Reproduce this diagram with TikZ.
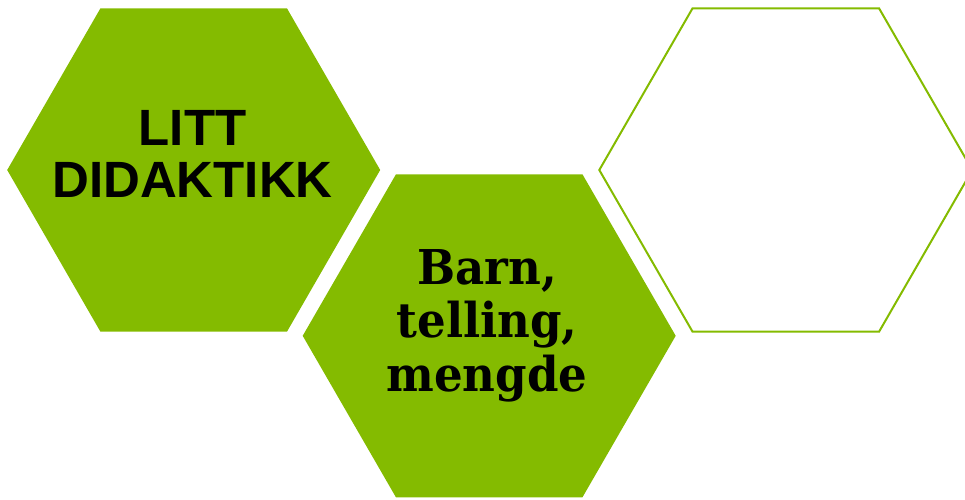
\documentclass[tikz,border=0pt]{standalone}
\usepackage{fontspec}
\usetikzlibrary{calc}
\setmainfont{Liberation Sans}
\newfontfamily\slabfont[FakeStretch=0.94]{DejaVu Serif}
\definecolor{hexgreen}{RGB}{132,187,0}
\tikzset{
  hexfill/.style={fill=hexgreen, draw=none},
  hexline/.style={draw=hexgreen, line width=2pt, fill=none, line join=miter},
  sanslabel/.style={align=center, inner sep=0pt, font=\fontsize{51}{52}\selectfont\bfseries, text=black, anchor=base},
  slablabel/.style={align=center, inner sep=0pt, font=\fontsize{48}{53.5}\selectfont\slabfont\bfseries, text=black, anchor=base},
}
\begin{document}
\begin{tikzpicture}[x=1pt,y=-1pt]
\useasboundingbox (0,0) rectangle (965,499);
\clip (0,0) rectangle (965,499);
% hexagon 1
\coordinate (h1) at (193.7,170);
\fill[hexfill] ($(h1)+(-186.5,0)$) -- ($(h1)+(-93.25,-161.7)$) -- ($(h1)+(93.25,-161.7)$) -- ($(h1)+(186.5,0)$) -- ($(h1)+(93.25,161.7)$) -- ($(h1)+(-93.25,161.7)$) -- cycle;
% hexagon 2
\coordinate (h2) at (489.2,335.8);
\fill[hexfill] ($(h2)+(-186.5,0)$) -- ($(h2)+(-93.25,-161.5)$) -- ($(h2)+(93.25,-161.5)$) -- ($(h2)+(186.5,0)$) -- ($(h2)+(93.25,161.5)$) -- ($(h2)+(-93.25,161.5)$) -- cycle;
% hexagon 3 (outline)
\coordinate (h3) at (785.8,170);
\draw[hexline] ($(h3)+(-186.5,0)$) -- ($(h3)+(-93.25,-161.7)$) -- ($(h3)+(93.25,-161.7)$) -- ($(h3)+(186.5,0)$) -- ($(h3)+(93.25,161.7)$) -- ($(h3)+(-93.25,161.7)$) -- cycle;
% labels (base anchor = baseline of last line)
\node[sanslabel] (t1) at (192.5,197) {LITT\\DIDAKTIKK};
\node[slablabel] (t2) at (487,391) {Barn,\\telling,\\mengde};
\end{tikzpicture}
\end{document}
